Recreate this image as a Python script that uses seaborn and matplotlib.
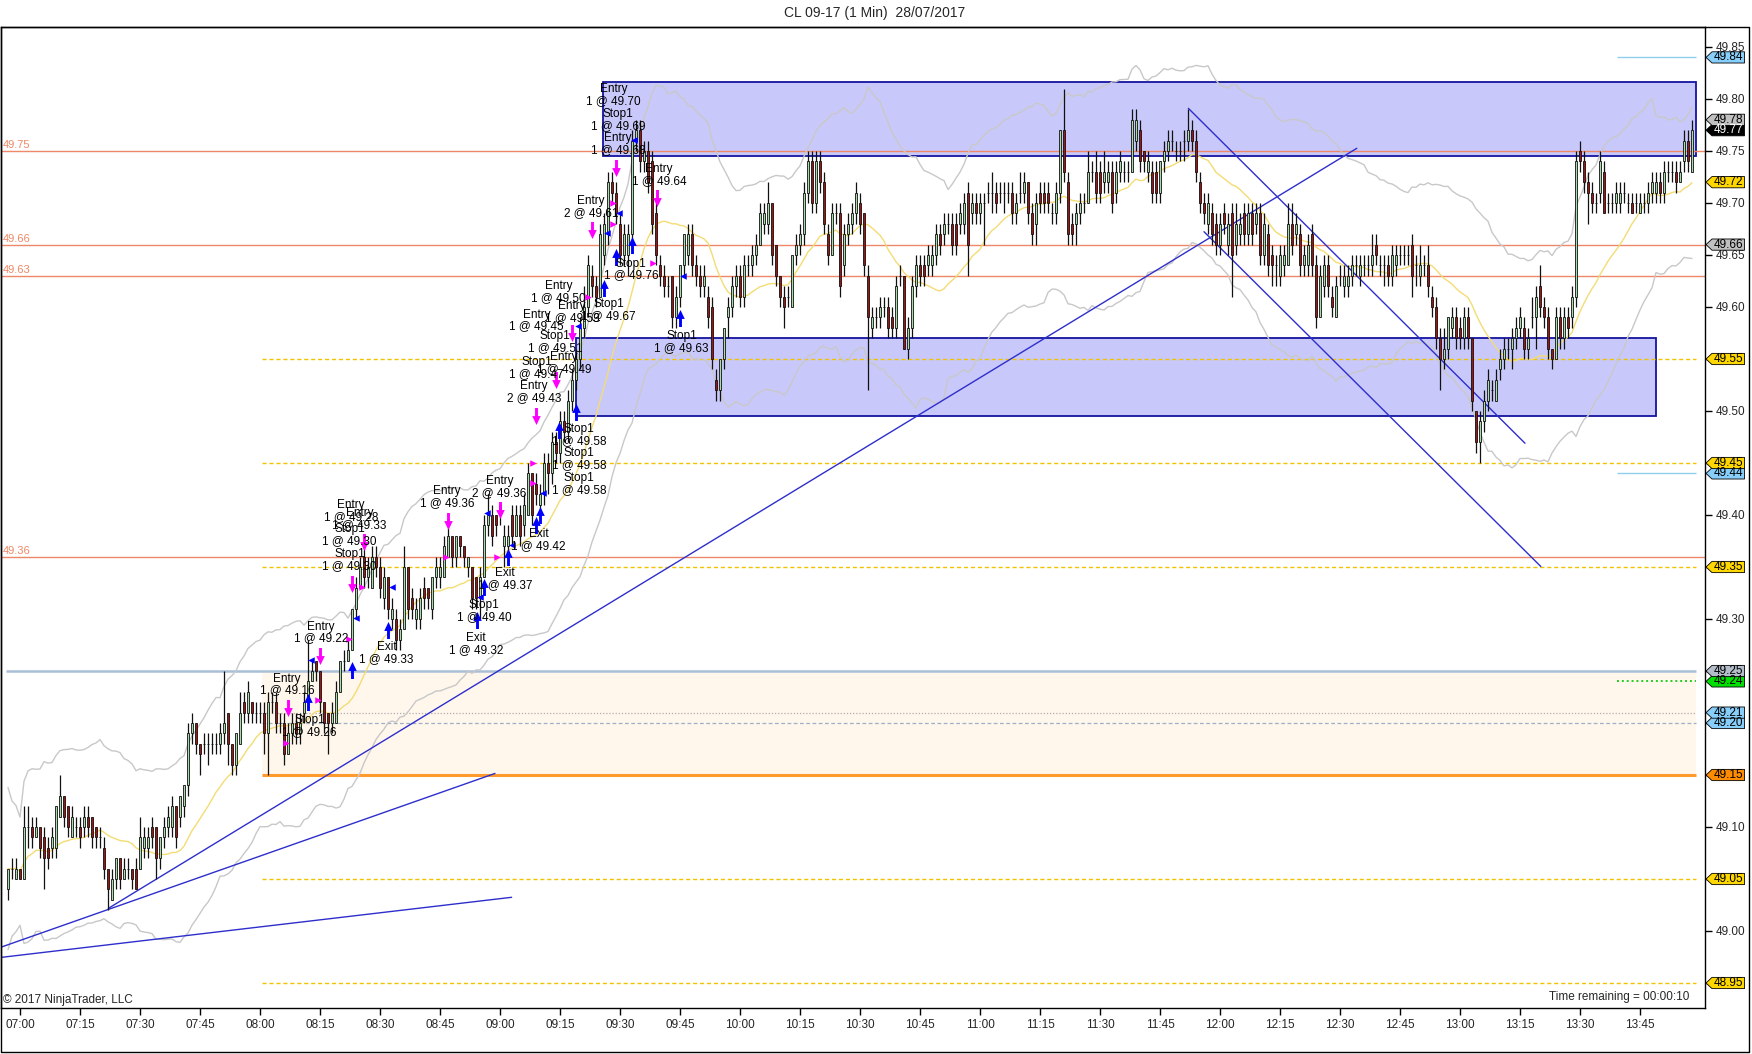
import numpy as np
import pandas as pd
import matplotlib
matplotlib.use("Agg")
import matplotlib.pyplot as plt
from matplotlib.path import Path
from matplotlib.patches import Rectangle, Polygon
from matplotlib.transforms import blended_transform_factory
import seaborn as sns

sns.set_style("white")
plt.rcParams['font.family'] = ['Liberation Sans', 'DejaVu Sans']

# 1 min bars from 06:57, prices in cents above 49.00
opens = [4, 6, 5, 6, 5, 10, 10, 9, 10, 9,
         8, 8, 8, 11, 13, 12, 9, 10, 10, 10,
         11, 11, 10, 9, 8, 6, 3, 5, 7, 5,
         6, 6, 6, 6, 8, 8, 10, 10, 7, 9,
         10, 10, 12, 11, 12, 14, 19, 20, 18, 18,
         18, 18, 18, 18, 19, 21, 18, 16, 18, 22,
         21, 22, 21, 21, 21, 19, 22, 22, 20, 20,
         17, 19, 20, 19, 21, 22, 24, 26, 25, 22,
         21, 20, 20, 23, 26, 26, 27, 31, 33, 36,
         34, 33, 36, 35, 32, 34, 30, 30, 28, 29,
         35, 32, 30, 30, 33, 33, 31, 34, 34, 34,
         36, 38, 36, 38, 37, 35, 35, 34, 32, 34,
         39, 40, 40, 41, 37, 37, 40, 38, 40, 39,
         40, 44, 43, 41, 42, 45, 44, 47, 46, 49,
         48, 51, 53, 55, 58, 60, 63, 62, 61, 65,
         67, 72, 71, 68, 65, 65, 67, 76, 77, 74,
         75, 74, 69, 64, 63, 62, 63, 59, 61, 64,
         65, 67, 64, 63, 62, 61, 60, 53, 52, 55,
         59, 60, 62, 63, 61, 64, 64, 65, 66, 68,
         68, 70, 66, 63, 61, 61, 60, 65, 66, 67,
         71, 74, 70, 74, 72, 67, 65, 69, 69, 64,
         67, 68, 69, 70, 69, 63, 58, 59, 59, 60,
         60, 59, 58, 63, 63, 56, 58, 62, 64, 64,
         64, 64, 65, 67, 67, 68, 68, 68, 68, 68,
         71, 69, 70, 69, 70, 71, 71, 71, 71, 71,
         71, 71, 69, 71, 71, 72, 69, 68, 71, 71,
         71, 69, 69, 71, 77, 72, 68, 68, 69, 70,
         70, 73, 73, 73, 72, 72, 73, 71, 73, 73,
         73, 73, 76, 77, 75, 73, 73, 73, 71, 74,
         75, 76, 75, 75, 76, 76, 77, 76, 72, 70,
         68, 69, 68, 66, 69, 66, 69, 66, 67, 69,
         67, 69, 68, 69, 65, 67, 65, 64, 63, 64,
         64, 68, 67, 67, 64, 64, 67, 64, 59, 62,
         64, 61, 59, 63, 62, 62, 63, 64, 63, 64,
         64, 64, 66, 64, 64, 64, 63, 64, 65, 65,
         65, 66, 64, 63, 64, 64, 61, 60, 57, 55,
         56, 58, 59, 58, 57, 59, 57, 50, 47, 49,
         51, 52, 51, 54, 55, 56, 56, 57, 58, 58,
         56, 59, 59, 62, 60, 59, 56, 55, 59, 57,
         59, 59, 61, 75, 74, 72, 71, 70, 71, 73,
         70, 70, 70, 70, 71, 70, 70, 70, 69, 70,
         70, 71, 71, 72, 71, 73, 73, 73, 72, 74,
         76, 73]
closes = [6, 6, 6, 5, 10, 10, 9, 10, 8, 7,
          7, 9, 12, 13, 11, 10, 11, 10, 9, 11,
          10, 9, 9, 9, 6, 4, 5, 7, 5, 6,
          6, 5, 4, 9, 9, 9, 9, 7, 9, 10,
          11, 12, 9, 13, 14, 19, 20, 18, 17, 18,
          18, 18, 18, 19, 20, 18, 16, 19, 21, 21,
          23, 21, 21, 21, 19, 22, 22, 20, 20, 17,
          19, 20, 19, 20, 22, 24, 25, 25, 22, 20,
          20, 21, 23, 26, 26, 27, 31, 33, 35, 34,
          35, 36, 35, 33, 34, 31, 31, 28, 29, 35,
          31, 31, 31, 32, 32, 32, 34, 35, 35, 37,
          38, 36, 38, 37, 36, 36, 32, 32, 34, 39,
          40, 38, 39, 40, 38, 38, 38, 40, 38, 41,
          44, 40, 42, 42, 45, 44, 47, 46, 49, 48,
          51, 53, 55, 58, 60, 64, 62, 61, 67, 68,
          72, 71, 69, 65, 67, 67, 76, 77, 74, 75,
          72, 68, 65, 63, 62, 62, 59, 61, 64, 67,
          67, 64, 63, 62, 63, 59, 55, 52, 55, 58,
          60, 62, 63, 61, 64, 64, 65, 66, 69, 69,
          70, 65, 63, 61, 60, 61, 65, 66, 67, 71,
          74, 70, 74, 72, 68, 65, 69, 69, 62, 67,
          68, 69, 71, 68, 64, 59, 59, 59, 60, 60,
          58, 58, 62, 63, 56, 58, 62, 64, 63, 63,
          65, 65, 67, 66, 68, 68, 66, 66, 69, 70,
          66, 70, 69, 70, 70, 71, 71, 70, 71, 71,
          71, 69, 70, 71, 72, 69, 67, 70, 70, 70,
          70, 69, 71, 77, 73, 67, 67, 69, 70, 70,
          73, 73, 71, 71, 73, 73, 70, 73, 74, 73,
          73, 78, 78, 74, 74, 74, 71, 71, 74, 75,
          76, 76, 75, 75, 76, 77, 76, 73, 70, 69,
          70, 67, 66, 68, 68, 68, 65, 68, 68, 67,
          69, 67, 69, 65, 68, 64, 64, 64, 65, 65,
          68, 66, 68, 64, 65, 66, 64, 59, 63, 64,
          62, 60, 62, 63, 63, 63, 64, 64, 64, 64,
          64, 65, 65, 64, 64, 63, 65, 65, 65, 65,
          65, 63, 64, 64, 64, 62, 60, 57, 55, 56,
          59, 59, 57, 57, 59, 57, 51, 47, 49, 51,
          53, 52, 53, 55, 56, 56, 57, 58, 59, 56,
          57, 59, 61, 60, 59, 56, 55, 59, 57, 59,
          58, 61, 74, 74, 72, 71, 70, 70, 74, 69,
          70, 70, 71, 71, 71, 70, 69, 70, 70, 70,
          71, 72, 72, 71, 73, 73, 73, 72, 73, 76,
          74, 77]
highs = [6, 7, 7, 6, 12, 12, 11, 11, 10, 10,
         9, 10, 12, 15, 13, 12, 12, 11, 11, 12,
         12, 11, 10, 10, 9, 6, 6, 7, 7, 7,
         7, 6, 7, 11, 10, 10, 11, 10, 9, 11,
         12, 13, 12, 13, 14, 20, 21, 20, 18, 19,
         19, 19, 19, 20, 25, 21, 18, 19, 23, 23,
         24, 22, 22, 22, 22, 23, 23, 23, 21, 21,
         20, 21, 21, 21, 23, 28, 26, 26, 25, 22,
         21, 22, 24, 26, 27, 28, 31, 34, 36, 37,
         36, 37, 37, 36, 35, 34, 32, 31, 30, 37,
         35, 33, 32, 33, 34, 33, 34, 36, 36, 38,
         39, 38, 38, 38, 37, 36, 35, 34, 35, 40,
         42, 41, 40, 41, 39, 39, 41, 41, 41, 42,
         45, 44, 44, 43, 46, 46, 48, 48, 50, 50,
         52, 54, 56, 59, 62, 65, 64, 63, 68, 69,
         73, 73, 72, 69, 68, 68, 77, 78, 78, 76,
         76, 75, 70, 65, 64, 63, 63, 62, 64, 67,
         68, 68, 65, 64, 64, 62, 61, 54, 55, 58,
         61, 63, 64, 64, 65, 65, 66, 67, 70, 70,
         72, 70, 66, 63, 62, 62, 65, 67, 68, 72,
         75, 75, 75, 75, 73, 68, 70, 70, 70, 68,
         69, 70, 72, 71, 69, 64, 60, 60, 61, 61,
         61, 60, 63, 64, 63, 59, 63, 65, 65, 65,
         66, 66, 68, 68, 69, 69, 69, 69, 70, 71,
         72, 71, 71, 71, 71, 72, 73, 72, 72, 72,
         72, 72, 71, 73, 73, 72, 70, 71, 72, 72,
         72, 70, 72, 77, 81, 73, 69, 70, 71, 71,
         75, 74, 75, 74, 75, 74, 74, 74, 75, 74,
         74, 79, 79, 78, 75, 75, 74, 74, 74, 76,
         77, 77, 76, 76, 77, 79, 78, 77, 73, 71,
         71, 70, 69, 69, 70, 69, 70, 70, 69, 70,
         70, 70, 70, 70, 69, 68, 66, 65, 66, 66,
         70, 70, 69, 68, 66, 67, 68, 65, 64, 65,
         65, 62, 63, 64, 64, 64, 65, 65, 65, 65,
         65, 67, 67, 65, 65, 65, 66, 66, 66, 66,
         66, 67, 65, 66, 65, 66, 62, 61, 58, 58,
         59, 60, 60, 59, 60, 60, 57, 50, 50, 52,
         54, 53, 54, 56, 57, 57, 58, 59, 60, 59,
         58, 61, 62, 64, 61, 60, 56, 60, 60, 60,
         60, 62, 75, 76, 75, 73, 72, 71, 75, 74,
         71, 71, 72, 72, 72, 71, 71, 71, 71, 71,
         72, 73, 73, 73, 74, 74, 74, 74, 74, 77,
         77, 78]
lows = [3, 5, 5, 5, 5, 8, 8, 9, 7, 4,
        6, 7, 7, 11, 10, 9, 9, 9, 8, 9,
        9, 8, 8, 8, 5, 2, 3, 4, 4, 5,
        5, 4, 4, 6, 7, 7, 8, 5, 6, 8,
        9, 9, 8, 10, 11, 13, 18, 17, 15, 17,
        16, 17, 17, 17, 18, 16, 15, 15, 18, 20,
        20, 20, 20, 20, 17, 15, 21, 19, 19, 16,
        17, 18, 18, 18, 20, 22, 24, 24, 21, 19,
        17, 19, 20, 23, 25, 26, 27, 30, 33, 33,
        33, 33, 34, 32, 31, 30, 29, 27, 27, 29,
        30, 30, 29, 29, 31, 31, 30, 33, 33, 34,
        36, 35, 35, 36, 35, 34, 31, 31, 30, 34,
        38, 37, 38, 39, 35, 36, 37, 38, 37, 38,
        40, 39, 41, 40, 41, 42, 43, 45, 45, 47,
        47, 50, 52, 54, 57, 59, 61, 60, 61, 64,
        66, 70, 68, 64, 64, 63, 66, 75, 73, 73,
        71, 67, 64, 62, 61, 61, 58, 58, 60, 63,
        64, 63, 62, 61, 61, 58, 54, 51, 51, 54,
        57, 59, 61, 60, 60, 63, 63, 64, 66, 67,
        67, 64, 62, 60, 58, 60, 60, 64, 65, 66,
        70, 69, 69, 71, 67, 64, 65, 68, 61, 63,
        66, 67, 68, 67, 63, 52, 57, 58, 58, 59,
        57, 57, 57, 62, 56, 55, 57, 61, 62, 62,
        63, 63, 64, 65, 66, 67, 65, 65, 67, 67,
        63, 68, 68, 68, 66, 70, 69, 69, 70, 69,
        70, 68, 68, 70, 70, 68, 66, 66, 69, 69,
        69, 68, 68, 70, 72, 66, 66, 66, 68, 69,
        70, 72, 70, 70, 71, 71, 69, 70, 72, 72,
        72, 73, 75, 73, 73, 72, 70, 70, 70, 73,
        74, 75, 74, 74, 74, 75, 75, 72, 69, 68,
        67, 66, 65, 65, 67, 65, 61, 65, 66, 66,
        66, 66, 67, 64, 64, 63, 62, 62, 62, 63,
        64, 65, 66, 63, 63, 63, 63, 58, 59, 61,
        61, 59, 59, 62, 61, 61, 62, 63, 62, 63,
        63, 63, 64, 63, 62, 62, 62, 63, 64, 64,
        64, 61, 62, 62, 63, 61, 59, 56, 52, 54,
        55, 57, 56, 56, 56, 56, 50, 46, 45, 48,
        50, 51, 51, 53, 54, 55, 54, 56, 57, 55,
        55, 58, 56, 59, 58, 55, 54, 55, 56, 56,
        57, 58, 60, 73, 71, 68, 69, 69, 70, 69,
        69, 69, 69, 69, 70, 69, 69, 69, 69, 69,
        69, 70, 70, 70, 70, 72, 72, 71, 72, 73,
        73, 73]

first_minute = -3  # minutes after 07:00 of the first bar
time_labels = ['07:00', '07:15', '07:30', '07:45', '08:00', '08:15', '08:30',
               '08:45', '09:00', '09:15', '09:30', '09:45', '10:00', '10:15',
               '10:30', '10:45', '11:00', '11:15', '11:30', '11:45', '12:00',
               '12:15', '12:30', '12:45', '13:00', '13:15', '13:30', '13:45']

# drawn levels
coral_levels = [49.75, 49.66, 49.63, 49.36]
yellow_levels = [49.55, 49.45, 49.35, 49.05, 48.95]
cyan_levels = [49.84, 49.44]
zone_low, zone_high = 49.15, 49.25

# zones (start min, end min, low, high)
boxes = [(145.8, 419.0, 49.745, 49.816),
         (138.9, 409.0, 49.495, 49.570)]

# trend lines (min, price, min, price)
trend_lines = [(22.1, 49.0218, 334.2, 49.7526),
               (-5.0, 48.9841, 118.75, 49.1515),
               (-5.0, 48.9745, 122.9, 49.0324),
               (292.1, 49.791, 376.25, 49.469),
               (296.0, 49.6724, 380.2, 49.3505)]

# price tags on the right axis
tag_values = [48.95, 49.05, 49.15, 49.20, 49.21, 49.24, 49.25, 49.35,
              49.44, 49.45, 49.55, 49.66, 49.72, 49.77, 49.78, 49.84]
tag_colors = ['#FFD700', '#FFD700', '#FF8C00', '#87CEFA', '#87CEFA', '#00E000',
              '#B4BECA', '#FFD700', '#87CEFA', '#FFD700', '#FFD700', '#C0C0C0',
              '#FFD700', '#000000', '#C0C0C0', '#87CEFA']

# trade texts
ann_text = ["Entry\n1 @ 49.70", "Stop1\n1 @ 49.69", "Entry\n1 @ 49.68", "Entry\n1 @ 49.64",
            "Entry\n2 @ 49.61", "Stop1\n1 @ 49.76", "Stop1\n1 @ 49.63", "Entry\n1 @ 49.50",
            "Stop1\n1 @ 49.67", "Entry\n1 @ 49.53", "Entry\n1 @ 49.45", "Stop1\n1 @ 49.51",
            "Stop1\n1 @ 49.47", "Entry\n1 @ 49.49", "Entry\n2 @ 49.43", "Stop1\n1 @ 49.58",
            "Stop1\n1 @ 49.58", "Stop1\n1 @ 49.58", "Exit\n1 @ 49.42", "Entry\n2 @ 49.36",
            "Entry\n1 @ 49.36", "Exit\n1 @ 49.37", "Stop1\n1 @ 49.40", "Exit\n1 @ 49.32",
            "Exit\n1 @ 49.33", "Entry\n1 @ 49.28", "Entry\n1 @ 49.33", "Stop1\n1 @ 49.30",
            "Stop1\n1 @ 49.30", "Entry\n1 @ 49.22", "Entry\n1 @ 49.16", "Stop1\n1 @ 49.26"]
ann_min = [148.4, 149.5, 149.5, 159.8, 142.8, 152.8, 165.4, 134.7, 147.2, 138.0, 129.1,
           133.8, 129.1, 136.0, 128.5, 139.7, 139.7, 139.7, 129.6, 119.9, 106.7, 121.3,
           116.0, 114.0, 91.6, 82.7, 84.9, 82.4, 82.4, 75.2, 66.8, 72.4]
ann_price = [49.804, 49.780, 49.757, 49.727, 49.696, 49.636, 49.566, 49.614, 49.597,
             49.595, 49.587, 49.566, 49.541, 49.546, 49.518, 49.477, 49.454, 49.430,
             49.376, 49.427, 49.417, 49.338, 49.308, 49.276, 49.267, 49.404, 49.396,
             49.381, 49.357, 49.287, 49.237, 49.197]

# execution markers
down_min = [67.1, 75.0, 83.0, 86.1, 107.0, 120.1, 129.1, 134.1, 138.0, 143.0, 148.9, 159.2]
down_price = [49.214, 49.264, 49.334, 49.374, 49.394, 49.405, 49.495, 49.530, 49.575,
              49.674, 49.734, 49.705]
up_min = [72.0, 83.0, 91.9, 114.3, 116.0, 122.1, 129.1, 129.9, 134.7, 139.0, 146.0,
          148.9, 153.0, 165.0]
up_price = [49.220, 49.251, 49.289, 49.299, 49.331, 49.360, 49.390, 49.400, 49.482,
            49.499, 49.618, 49.648, 49.660, 49.589]
right_min = [66.5, 74.6, 82.3, 85.5, 106.5, 119.3, 128.2, 128.2, 142.1, 148.3, 148.3, 158.3]
right_price = [49.181, 49.222, 49.281, 49.331, 49.360, 49.360, 49.450, 49.431, 49.610,
               49.700, 49.680, 49.642]
left_min = [72.7, 84.0, 93.0, 115.0, 116.8, 122.9, 130.8, 139.4, 146.7, 149.7, 153.6, 165.8]
left_price = [49.261, 49.301, 49.331, 49.321, 49.402, 49.371, 49.421, 49.582, 49.671,
              49.690, 49.761, 49.630]

# ---------------------------------------------------------------
df = pd.DataFrame({'open': opens, 'high': highs, 'low': lows, 'close': closes}) / 100.0 + 49.0
df['t'] = np.arange(first_minute, first_minute + len(df))

# average + channel from true range
df['mid'] = df['close'].rolling(20, min_periods=1).mean()
prev_close = df['close'].shift(1).fillna(df['open'])
true_range = np.maximum(df['high'], prev_close) - np.minimum(df['low'], prev_close)
offset = 2.6 * true_range.rolling(20, min_periods=1).mean()
df['upper'] = df['mid'] + offset
df['lower'] = df['mid'] - offset

W, H = 1752, 1054
fig = plt.figure(figsize=(W / 100, H / 100), dpi=100)
ax = fig.add_axes([1 / W, 46 / H, 1704 / W, 981 / H])
ax.set_xlim(-4.75, 421.25)
ax.set_ylim(48.92596, 49.86923)
right_end = 419.0
zone_start = 60.6

# zones and boxes
ax.add_patch(Rectangle((zone_start, zone_low), right_end - zone_start, zone_high - zone_low,
                       fc='#FFF6EC', ec='none', zorder=0.5))
for x0, x1, y0, y1 in boxes:
    ax.add_patch(Rectangle((x0, y0), x1 - x0, y1 - y0, fc='#C8C8FA', ec='#1414A0',
                           lw=1.3, zorder=1))

# level lines
for lv in coral_levels:
    ax.axhline(lv, color='#EE8866', lw=1, zorder=1.5)
    ax.text(-4.3, lv + 0.0008, '%.2f' % lv, color='#EE8866', fontsize=8,
            ha='left', va='bottom', zorder=6)
ax.hlines(yellow_levels, zone_start, right_end, colors='#F0C400', linestyles=(0, (3, 2)),
          lw=1, zorder=1.5)
ax.hlines(cyan_levels, 399.2, right_end, colors='#8ECFEA', lw=1, zorder=1.5)
ax.hlines(49.25, -3.6, right_end, colors='#A9BFD6', lw=1.8, zorder=1.5)
ax.hlines(49.24, 399.2, right_end, colors='#22CC22', linestyles=(0, (1, 1.5)), lw=1.4, zorder=1.5)
ax.hlines(49.21, zone_start, right_end, colors='#B0B0B0', linestyles=(0, (1, 1.5)), lw=0.9, zorder=1.5)
ax.hlines(49.20, zone_start, right_end, colors='#9DB0C6', linestyles=(0, (3, 2)), lw=0.9, zorder=1.5)
ax.hlines(zone_low, zone_start, right_end, colors='#FF9A2E', lw=2.2, zorder=1.5)

# trend lines
for x0, y0, x1, y1 in trend_lines:
    ax.plot([x0, x1], [y0, y1], color='#2E2ECC', lw=1, zorder=2.2)

# bands and average
sns.lineplot(data=df, x='t', y='upper', ax=ax, color='#C8C8C8', lw=1, zorder=2)
sns.lineplot(data=df, x='t', y='lower', ax=ax, color='#C8C8C8', lw=1, zorder=2)
sns.lineplot(data=df, x='t', y='mid', ax=ax, color='#F4DC74', lw=1, zorder=2.1)

# candles
up = df['close'] >= df['open']
wick_hi = df[['high', 'open', 'close']].max(axis=1)
wick_lo = df[['low', 'open', 'close']].min(axis=1)
ax.vlines(df['t'], wick_lo, wick_hi, color='#111111', lw=0.9, zorder=3)
body_lo = df[['open', 'close']].min(axis=1)
body_h = (df['close'] - df['open']).abs()
ax.bar(df['t'][up], body_h[up], bottom=body_lo[up], width=0.62, color='#A8DCA8',
       edgecolor='#111111', lw=0.6, zorder=3.1)
ax.bar(df['t'][~up], body_h[~up], bottom=body_lo[~up], width=0.62, color='#9E1515',
       edgecolor='#111111', lw=0.6, zorder=3.1)

# execution markers
arrow_dn = Path([(-0.17, 1), (0.17, 1), (0.17, 0.05), (0.5, 0.05), (0, -1),
                 (-0.5, 0.05), (-0.17, 0.05), (-0.17, 1)],
                [Path.MOVETO] + [Path.LINETO] * 6 + [Path.CLOSEPOLY])
arrow_up = Path([(x, -y) for x, y in arrow_dn.vertices], arrow_dn.codes)
ax.scatter(down_min, down_price, marker=arrow_dn, s=150, color='#FF00FF', lw=0, zorder=4)
ax.scatter(up_min, up_price, marker=arrow_up, s=150, color='#0000FF', lw=0, zorder=4)
ax.scatter(right_min, right_price, marker='>', s=22, color='#FF00FF', lw=0, zorder=4)
ax.scatter(left_min, left_price, marker='<', s=22, color='#0000FF', lw=0, zorder=4)

for txt, xm, yp in zip(ann_text, ann_min, ann_price):
    ax.text(xm, yp, txt, fontsize=8.5, ha='center', va='center', multialignment='center',
            linespacing=1.0, color='#000000', zorder=5)

# axes look
ax.set_xlabel('')
ax.set_ylabel('')
for s in ax.spines.values():
    s.set_color('#000000')
    s.set_linewidth(1)
ax.yaxis.tick_right()
ticks_y = np.round(np.arange(48.95, 49.851, 0.05), 2)
ax.set_yticks(ticks_y)
ax.set_yticklabels(['%.2f' % v for v in ticks_y])
ax.set_xticks(np.arange(0, 15 * len(time_labels), 15))
ax.set_xticklabels(time_labels)
ax.tick_params(axis='both', direction='out', length=5, width=1, labelsize=8.5,
               color='#000000', left=False, bottom=True, right=True)
ax.tick_params(axis='x', pad=3)
ax.tick_params(axis='y', pad=3)
ax.grid(False)

# right price tags
blend = blended_transform_factory(ax.transAxes, ax.transData)
x_tip, x_l, x_r = 1.0006, 1.0041, 1.0232
h = 0.0054
for val, col in zip(tag_values, tag_colors):
    poly = Polygon([(x_tip, val), (x_l, val + h), (x_r, val + h), (x_r, val - h), (x_l, val - h)],
                   closed=True, transform=blend, fc=col, ec='#000000', lw=0.6,
                   clip_on=False, zorder=10)
    ax.add_patch(poly)
    ax.text((x_l + x_r) / 2, val, '%.2f' % val, transform=blend, fontsize=8.5,
            ha='center', va='center', color='#FFFFFF' if col == '#000000' else '#000000',
            clip_on=False, zorder=11)

ax.text(-4.3, 48.9335, '\u00a9 2017 NinjaTrader, LLC', fontsize=8.5, ha='left', va='center', zorder=6)
ax.text(417.3, 48.9362, 'Time remaining = 00:00:10', fontsize=8.5, ha='right', va='center', zorder=6)

fig.text(875 / W, 1 - 13 / H, 'CL 09-17 (1 Min)  28/07/2017', fontsize=10, ha='center', va='center')

# outer frame
fig.add_artist(plt.Line2D([0.5 / W, 0.5 / W, 1749 / W, 1749 / W, 0.5 / W],
                          [1 - 27 / H, 1 - 1052 / H, 1 - 1052 / H, 1 - 27 / H, 1 - 27 / H],
                          transform=fig.transFigure, color='#000000', lw=1))

fig.savefig('out.png', dpi=100)
